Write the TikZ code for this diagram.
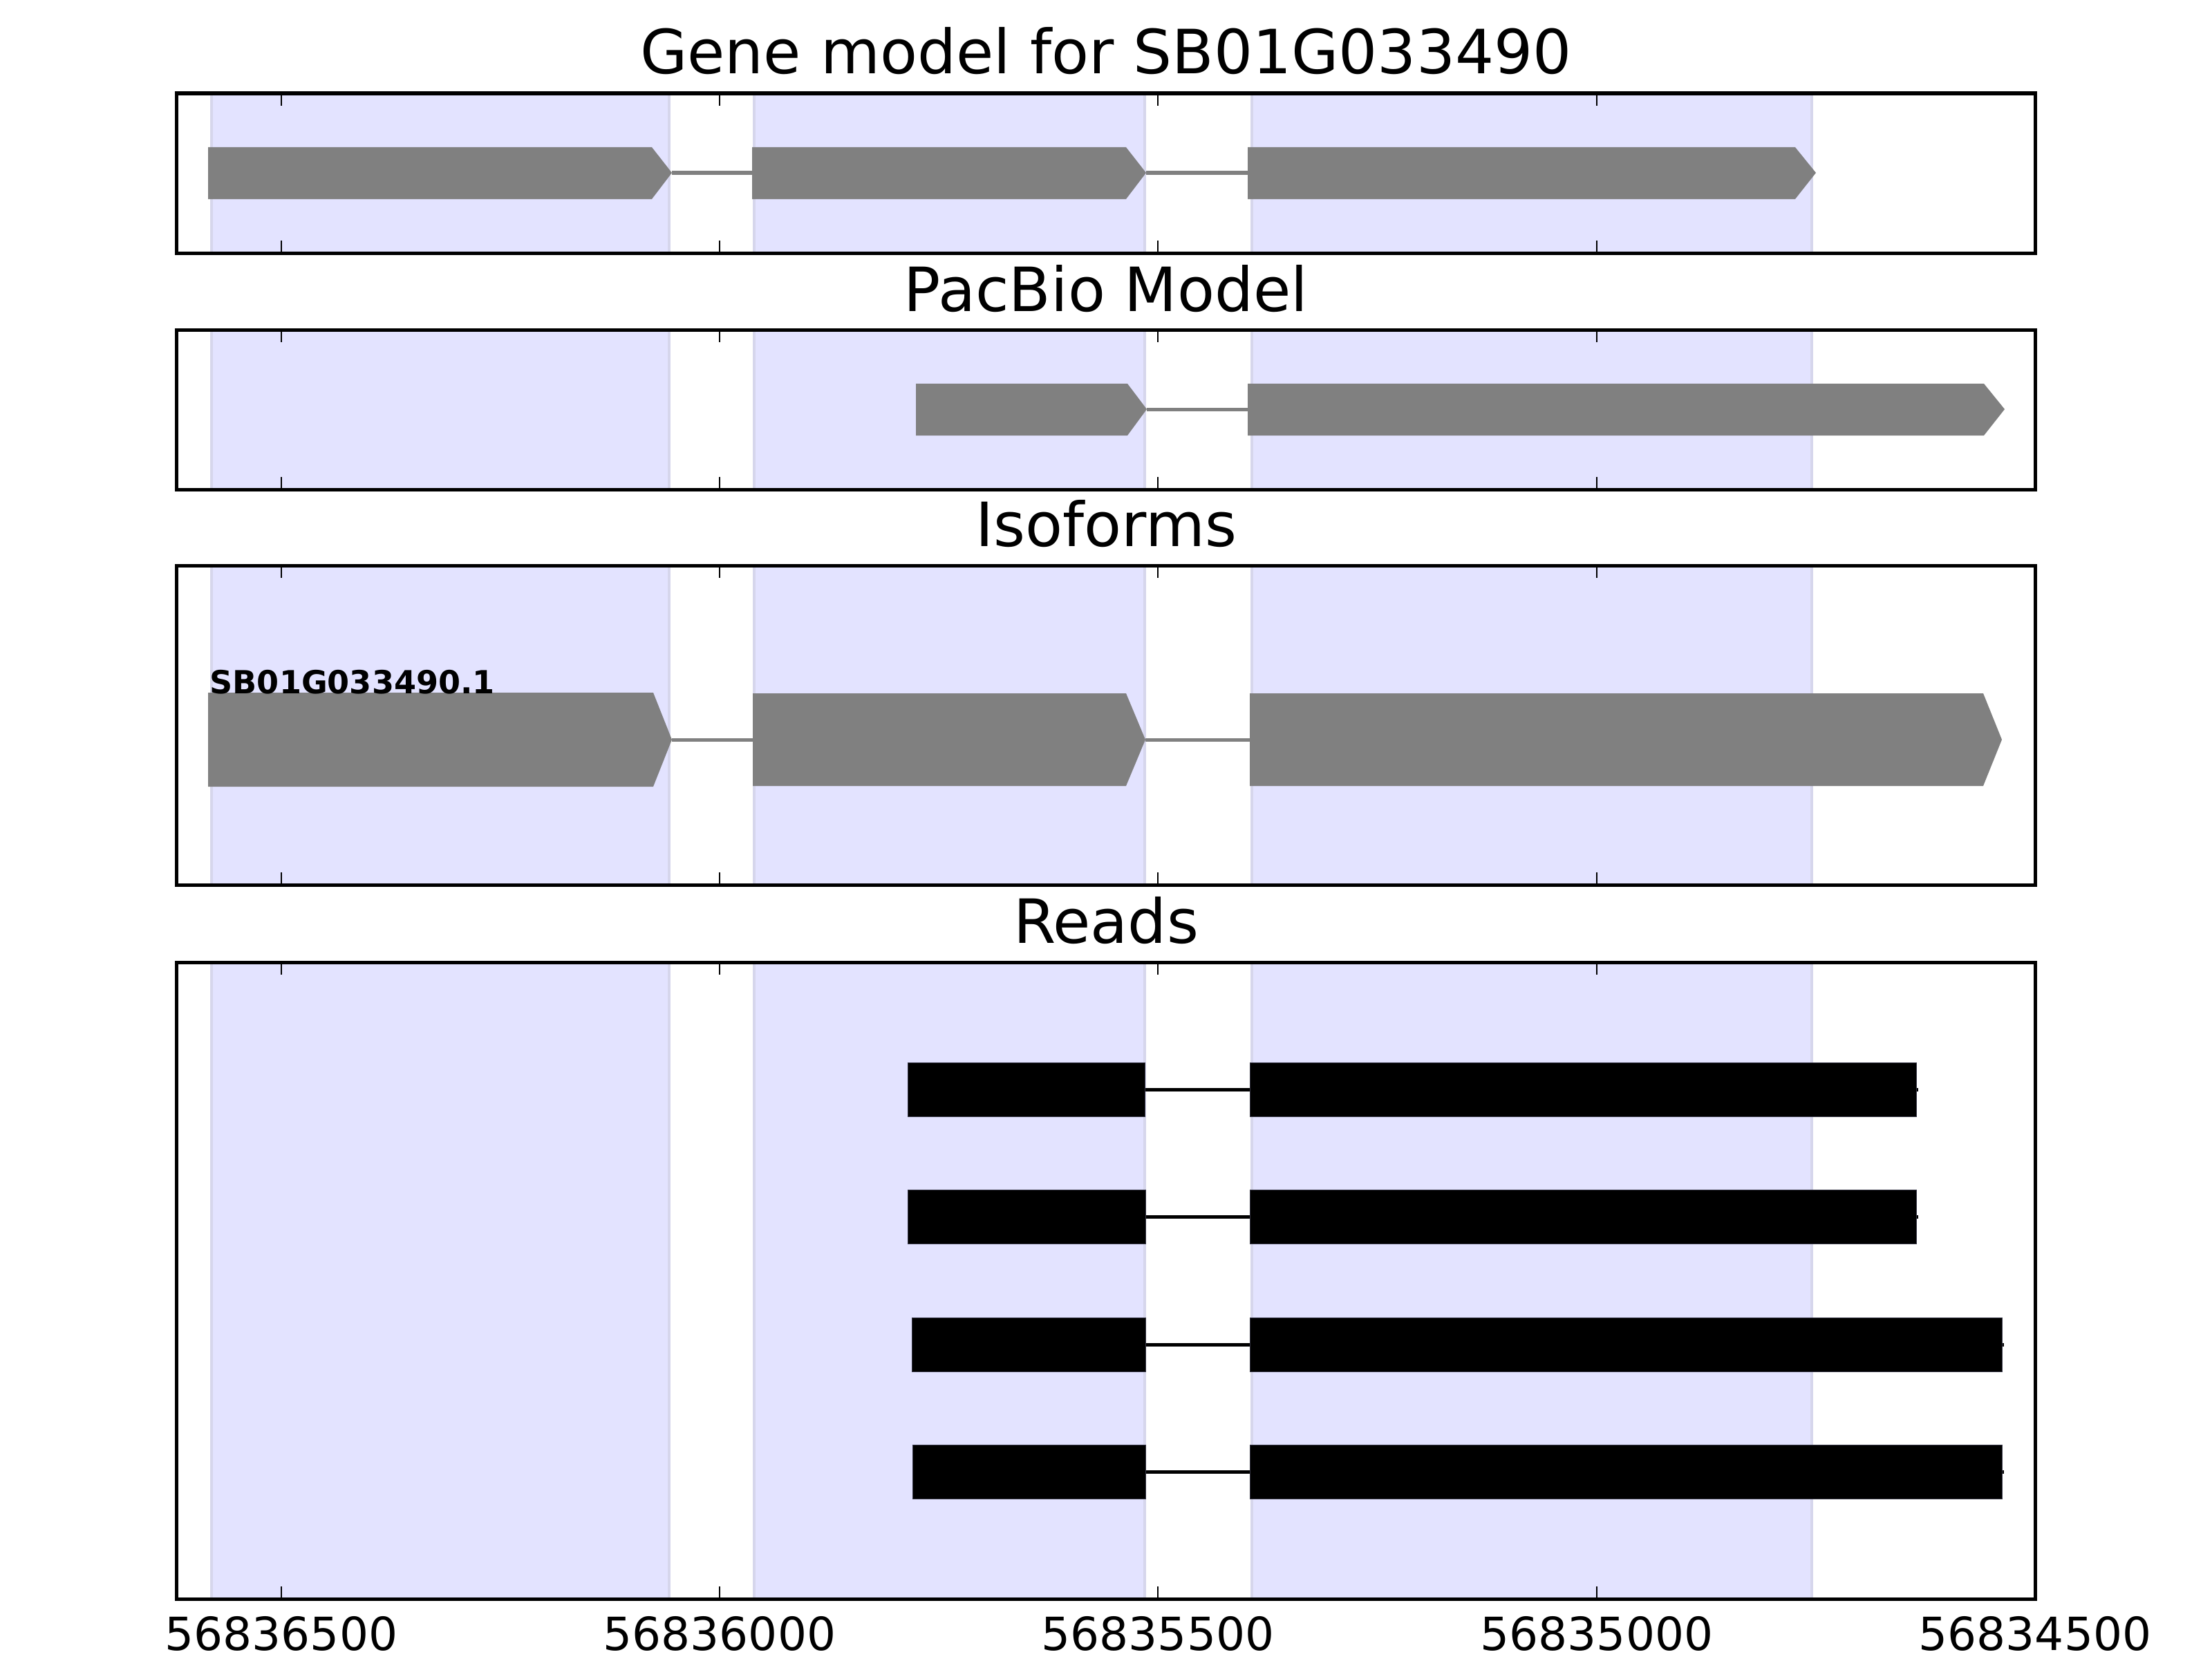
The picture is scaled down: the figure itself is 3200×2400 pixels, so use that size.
\documentclass[tikz,border=0pt]{standalone}
\usepackage{fontspec}
\setmainfont{DejaVu Sans}
\definecolor{spanfill}{RGB}{227,227,255}
\definecolor{spanedge}{RGB}{214,214,236}
\definecolor{exongray}{RGB}{128,128,128}
\definecolor{readedge}{RGB}{55,55,70}
\newcommand\exonarrow[6]{%
  \fill[exon] (#1,#4) -- (#2,#4) -- (#3,#6) -- (#2,#5) -- (#1,#5) -- cycle;}
\newcommand\readrow[6]{%
  \draw[readline] (1500,#6) -- (#4+3,#6);
  \filldraw[readbox] (#1,#5-39) rectangle (#2,#5+39);
  \filldraw[readbox] (#3,#5-39) rectangle (#4,#5+39);}
\begin{document}
\begin{tikzpicture}[x=0.01cm,y=-0.01cm,
  axframe/.style={draw=black,line width=0.05cm},
  spanbox/.style={fill=spanfill,draw=spanedge,line width=0.035cm},
  exon/.style={fill=exongray,draw=none},
  intron/.style={draw=exongray,line width=0.05cm},
  readbox/.style={fill=black,draw=readedge,line width=0.008cm},
  readline/.style={draw=black,line width=0.05cm},
  tickmark/.style={draw=black,line width=0.025cm},
  ptitle/.style={font=\fontsize{25.1pt}{30pt}\selectfont,anchor=base,inner sep=0pt},
  ticklabel/.style={font=\fontsize{18.8pt}{22pt}\selectfont,anchor=base,inner sep=0pt},
  isolabel/.style={font=\fontsize{13.1pt}{15pt}\selectfont\bfseries,anchor=base west,inner sep=0pt}]
\useasboundingbox[fill=white] (0,0) rectangle (3200,2400);

% shaded exon spans for each panel
\foreach \ptop/\pbot in {135/366, 477/708, 818/1280, 1392/2313}{
  \filldraw[spanbox] (306,\ptop) rectangle (968,\pbot);
  \filldraw[spanbox] (1091,\ptop) rectangle (1656,\pbot);
  \filldraw[spanbox] (1811,\ptop) rectangle (2621,\pbot);
}

% Panel 1: gene model
\exonarrow{301}{943}{972}{213}{288}{250}
\exonarrow{1088}{1629}{1658}{213}{288}{250}
\exonarrow{1805}{2597}{2627}{213}{288}{250}
\draw[intron] (972,250) -- (1088,250);
\draw[intron] (1658,250) -- (1805,250);

% Panel 2: PacBio model
\exonarrow{1325}{1631}{1659}{555}{630}{592}
\exonarrow{1805}{2870}{2900}{555}{630}{592}
\draw[intron] (1659,592) -- (1805,592);

% Panel 3: isoforms
\exonarrow{301}{945}{972}{1002}{1138}{1070}
\exonarrow{1089}{1629}{1657}{1003}{1137}{1070}
\exonarrow{1808}{2869}{2896}{1003}{1137}{1070}
\draw[intron] (972,1070) -- (1089,1070);
\draw[intron] (1657,1070) -- (1808,1070);
\node[isolabel] (iso) at (303,1003) {SB01G033490.1};

% Panel 4: reads
\readrow{1313}{1656}{1808}{2772}{1576}{1576}
\readrow{1313}{1657}{1808}{2772}{1760}{1760}
\readrow{1319}{1657}{1808}{2896}{1945}{1945}
\readrow{1320}{1657}{1808}{2896}{2129}{2129}

% frames and ticks
\foreach \ptop/\pbot in {135/366, 477/708, 818/1280, 1392/2313}{
  \foreach \tx in {407,1041,1675,2310}{
    \draw[tickmark] (\tx,\ptop) -- (\tx,\ptop+18);
    \draw[tickmark] (\tx,\pbot) -- (\tx,\pbot-18);
  }
  \draw[axframe] (255,\ptop) rectangle (2944,\pbot);
}

% titles
\node[ptitle] (t1) at (1600,107) {Gene model for SB01G033490};
\node[ptitle] (t2) at (1600,450) {PacBio Model};
\node[ptitle] (t3) at (1600,790) {Isoforms};
\node[ptitle] (t4) at (1600,1364) {Reads};

% tick labels
\node[ticklabel] (l1) at (407,2387) {56836500};
\node[ticklabel] (l2) at (1041,2387) {56836000};
\node[ticklabel] (l3) at (1675,2387) {56835500};
\node[ticklabel] (l4) at (2310,2387) {56835000};
\node[ticklabel] (l5) at (2944,2387) {56834500};
\end{tikzpicture}
\end{document}
